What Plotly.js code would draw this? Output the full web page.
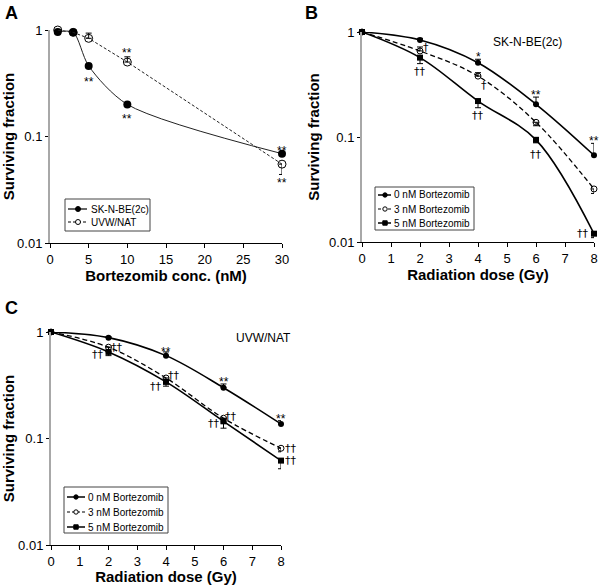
<!DOCTYPE html>
<html><head><meta charset="utf-8">
<script src="https://cdn.plot.ly/plotly-3.0.1.min.js"></script>
<style>html,body{margin:0;padding:0;background:#fff}#chart{width:600px;height:585px}</style>
</head><body><div id="chart"></div>
<script>
// Panel A: Bortezomib concentration (nM)
const concA = [1, 3, 5, 10, 30];
const skA = [0.96, 0.95, 0.46, 0.20, 0.069];
const skA_errUp = [0, 0.05, 0, 0, 0];
const uvwA = [1.0, 0.95, 0.835, 0.50, 0.055];
const uvwA_errUp = [0, 0, 0.10, 0.06, 0];
const uvwA_errDn = [0, 0, 0, 0, 0.011];

// Panel B: SK-N-BE(2c), radiation dose (Gy)
const doseB = [0, 2, 4, 6, 8];
const b0 = [1.0, 0.84, 0.51, 0.205, 0.067];
const b0_errUp = [0, 0.03, 0.04, 0.035, 0.02];
const b3 = [1.0, 0.66, 0.38, 0.138, 0.032];
const b3_errUp = [0, 0.06, 0.03, 0, 0];
const b3_errDn = [0, 0, 0, 0.01, 0.003];
const b5 = [1.0, 0.57, 0.22, 0.094, 0.012];
const b5_errDn = [0, 0.07, 0.03, 0.006, 0.001];

// Panel C: UVW/NAT, radiation dose (Gy)
const doseC = [0, 2, 4, 6, 8];
const c0 = [1.0, 0.885, 0.60, 0.30, 0.137];
const c0_errUp = [0, 0.02, 0.05, 0.025, 0.01];
const c3 = [1.0, 0.72, 0.37, 0.155, 0.081];
const c3_errDn = [0, 0.06, 0.04, 0.015, 0.006];
const c5 = [1.0, 0.65, 0.34, 0.145, 0.062];
const c5_errDn = [0, 0.05, 0.03, 0.02, 0.010];

const legendA = ['SK-N-BE(2c)', 'UVW/NAT'];
const legendBC = ['0 nM Bortezomib', '3 nM Bortezomib', '5 nM Bortezomib'];
const yTickVals = [0.01, 0.1, 1];
const yTickText = ['0.01', '0.1', '1'];

const FONT = 'Liberation Sans, Arial, sans-serif';
const DAG_FONT = 'DejaVu Sans, sans-serif';

function eb(up, dn) {
  return {type: 'data', symmetric: false, array: up, arrayminus: dn || up.map(() => 0),
          color: '#000', thickness: 1, width: 3};
}
function ln(dash, w) { return {color: '#000', width: w, dash: dash, shape: 'spline', smoothing: 1}; }

const traces = [
  {x: concA, y: skA, name: legendA[0], xaxis: 'x', yaxis: 'y', mode: 'lines+markers',
   line: {color: '#222', width: 1, shape: 'spline', smoothing: 0.8}, marker: {symbol: 'circle', size: 8, color: '#000'},
   error_y: eb(skA_errUp), cliponaxis: false},
  {x: concA, y: uvwA, name: legendA[1], xaxis: 'x', yaxis: 'y', mode: 'lines+markers',
   line: {color: '#222', width: 1, dash: '3px,2px'}, marker: {symbol: 'circle-open', size: 8, color: '#000', line: {width: 1}},
   error_y: eb(uvwA_errUp, uvwA_errDn), cliponaxis: false},

  {x: doseB, y: b0, name: legendBC[0], xaxis: 'x2', yaxis: 'y2', mode: 'lines+markers',
   line: ln('solid', 1.6), marker: {symbol: 'circle', size: 6, color: '#000'}, error_y: eb(b0_errUp), cliponaxis: false},
  {x: doseB, y: b3, name: legendBC[1], xaxis: 'x2', yaxis: 'y2', mode: 'lines+markers',
   line: ln('5px,3px', 1.3), marker: {symbol: 'circle-open', size: 6, color: '#000', line: {width: 1}}, error_y: eb(b3_errUp, b3_errDn), cliponaxis: false},
  {x: doseB, y: b5, name: legendBC[2], xaxis: 'x2', yaxis: 'y2', mode: 'lines+markers',
   line: ln('solid', 1.6), marker: {symbol: 'square', size: 6, color: '#000'}, error_y: eb(b5.map(() => 0), b5_errDn), cliponaxis: false},

  {x: doseC, y: c0, name: legendBC[0], xaxis: 'x3', yaxis: 'y3', mode: 'lines+markers',
   line: ln('solid', 1.6), marker: {symbol: 'circle', size: 6, color: '#000'}, error_y: eb(c0_errUp), cliponaxis: false},
  {x: doseC, y: c3, name: legendBC[1], xaxis: 'x3', yaxis: 'y3', mode: 'lines+markers',
   line: ln('5px,3px', 1.3), marker: {symbol: 'circle-open', size: 6, color: '#000', line: {width: 1}}, error_y: eb(c3.map(() => 0), c3_errDn), cliponaxis: false},
  {x: doseC, y: c5, name: legendBC[2], xaxis: 'x3', yaxis: 'y3', mode: 'lines+markers',
   line: ln('solid', 1.6), marker: {symbol: 'square', size: 6, color: '#000'}, error_y: eb(c5.map(() => 0), c5_errDn), cliponaxis: false}
];

function xax(domain, range, dtick, title, anchor) {
  return {domain: domain, range: range, dtick: dtick, tick0: 0, anchor: anchor,
    showline: true, linecolor: '#000', linewidth: 1, ticks: 'outside', ticklen: 4, tickcolor: '#000',
    showgrid: false, zeroline: false, tickfont: {family: FONT, size: 13, color: '#000'},
    title: {text: title, font: {family: FONT, size: 15, color: '#000', weight: 'bold'}, standoff: 3}};
}
function yax(domain, anchor) {
  return {domain: domain, type: 'log', range: [-2, 0], anchor: anchor,
    tickvals: yTickVals, ticktext: yTickText,
    showline: true, linecolor: '#a8a8a8', linewidth: 2, ticks: 'outside', ticklen: 3, tickcolor: '#000',
    showgrid: false, zeroline: false, tickfont: {family: FONT, size: 13, color: '#000'},
    title: {text: 'Surviving fraction', font: {family: FONT, size: 15, color: '#000', weight: 'bold'}, standoff: 6}};
}

// annotations anchored to data points (x, value) with pixel offsets
function at(ax, x, v, text, dx, dy) {
  const dag = text.indexOf('†') >= 0;
  return {xref: ax.x, yref: ax.y, x: x, y: Math.log10(v), text: text, showarrow: false, borderpad: 0,
    xshift: dx, yshift: dy, font: {family: dag ? DAG_FONT : FONT, size: dag ? 11 : 12, color: '#000'}};
}
const A = {x: 'x', y: 'y'}, B = {x: 'x2', y: 'y2'}, C = {x: 'x3', y: 'y3'};

const annotations = [
  at(A, concA[3], uvwA[3], '**', 0, 9),
  at(A, concA[2], skA[2], '**', 0, -16),
  at(A, concA[3], skA[3], '**', 0, -15),
  at(A, concA[4], skA[4], '**', 0, 3),
  at(A, concA[4], uvwA[4], '**', 0, -19),

  at(B, doseB[2], b0[2], '*', 0, 6),
  at(B, doseB[3], b0[3], '**', 0, 9),
  at(B, doseB[4], b0[4], '**', 0, 14),
  at(B, doseB[1], b3[1], '†', 6, 3),
  at(B, doseB[2], b3[2], '†', 6, -9),
  at(B, doseB[1], b5[1], '††', 0, -14),
  at(B, doseB[2], b5[2], '††', 0, -14),
  at(B, doseB[3], b5[3], '††', 0, -15),
  at(B, doseB[4], b5[4], '††', -11, 0),

  at(C, doseC[1], c5[1], '††', -11, -3),
  at(C, doseC[1], c3[1], '††', 8, 0),
  at(C, doseC[2], c0[2], '**', 0, 4),
  at(C, doseC[2], c3[2], '††', 8, 2),
  at(C, doseC[2], c5[2], '††', -10, -5),
  at(C, doseC[3], c0[3], '**', 0, 6),
  at(C, doseC[3], c3[3], '††', 7, 2),
  at(C, doseC[3], c5[3], '††', -10, -2),
  at(C, doseC[4], c0[4], '**', 0, 5),
  at(C, doseC[4], c3[4], '††', 10, 0),
  at(C, doseC[4], c5[4], '††', 10, 0),

  {xref: 'paper', yref: 'paper', x: 0.94, y: 1 - 33/585, text: 'SK-N-BE(2c)', showarrow: false,
   font: {family: FONT, size: 12, color: '#000'}},
  {xref: 'paper', yref: 'paper', x: 263/600, y: 1 - 338/585, text: 'UVW/NAT', showarrow: false,
   font: {family: FONT, size: 12, color: '#000'}},
  {xref: 'paper', yref: 'paper', x: 3/600, y: 1 - 1/585, xanchor: 'left', yanchor: 'top', text: '<b>A</b>', showarrow: false,
   font: {family: FONT, size: 18, color: '#000'}},
  {xref: 'paper', yref: 'paper', x: 303/600, y: 1 - 1/585, xanchor: 'left', yanchor: 'top', text: '<b>B</b>', showarrow: false,
   font: {family: FONT, size: 18, color: '#000'}},
  {xref: 'paper', yref: 'paper', x: 3/600, y: 1 - 296/585, xanchor: 'left', yanchor: 'top', text: '<b>C</b>', showarrow: false,
   font: {family: FONT, size: 18, color: '#000'}}
];

// Hand-built legend boxes (pixel layout converted to paper coords)
const shapes = [];
const PX = x => x / 600, PY = y => 1 - y / 585;
function legendBox(box, rows, names, styles, fontSize) {
  shapes.push({type: 'rect', xref: 'paper', yref: 'paper', x0: PX(box[0]), x1: PX(box[1]), y0: PY(box[2]), y1: PY(box[3]),
    line: {color: '#444', width: 1}, fillcolor: '#fff', layer: 'above'});
  names.forEach((nm, i) => {
    const st = styles[i], y = rows.y[i];
    shapes.push({type: 'line', xref: 'paper', yref: 'paper', x0: PX(rows.l0), x1: PX(rows.l1), y0: PY(y), y1: PY(y),
      line: {color: '#000', width: st.w, dash: st.dash}, layer: 'above'});
    const r = st.r, cx = rows.m;
    if (st.sym === 'square') {
      shapes.push({type: 'rect', xref: 'paper', yref: 'paper', x0: PX(cx - r), x1: PX(cx + r), y0: PY(y - r), y1: PY(y + r),
        line: {color: '#000', width: 1}, fillcolor: '#000', layer: 'above'});
    } else {
      shapes.push({type: 'circle', xref: 'paper', yref: 'paper', x0: PX(cx - r), x1: PX(cx + r), y0: PY(y - r), y1: PY(y + r),
        line: {color: '#000', width: 1}, fillcolor: st.sym === 'open' ? '#fff' : '#000', layer: 'above'});
    }
    annotations.push({xref: 'paper', yref: 'paper', x: PX(rows.t), y: PY(y), xanchor: 'left', yanchor: 'middle',
      text: nm, showarrow: false, borderpad: 0, font: {family: FONT, size: fontSize, color: '#000'}});
  });
}
legendBox([65, 150, 199, 231], {y: [209, 222], l0: 68, l1: 87, m: 78, t: 90}, legendA,
  [{sym: 'filled', r: 2.5, w: 1.2, dash: 'solid'}, {sym: 'open', r: 2.5, w: 1, dash: '3px,2px'}], 10);
legendBox([375, 474, 187, 230], {y: [195, 209, 223], l0: 378, l1: 391, m: 385, t: 393}, legendBC,
  [{sym: 'filled', r: 2.2, w: 1.5, dash: 'solid'}, {sym: 'open', r: 2.2, w: 1.2, dash: '3px,2px'}, {sym: 'square', r: 2.2, w: 1.5, dash: 'solid'}], 10);
legendBox([64, 168, 487, 533], {y: [497, 512, 527], l0: 67, l1: 85, m: 76, t: 87}, legendBC,
  [{sym: 'filled', r: 2.2, w: 1.5, dash: 'solid'}, {sym: 'open', r: 2.2, w: 1.2, dash: '3px,2px'}, {sym: 'square', r: 2.2, w: 1.5, dash: 'solid'}], 10);

const layout = {
  width: 600, height: 585, margin: {l: 0, r: 0, t: 0, b: 0},
  paper_bgcolor: '#fff', plot_bgcolor: 'rgba(0,0,0,0)',
  font: {family: FONT, color: '#000'},
  showlegend: false,
  xaxis: xax([50/600, 282/600], [0, 30], 5, 'Bortezomib conc. (nM)', 'y'),
  yaxis: yax([1 - 243/585, 1 - 30/585], 'x'),
  xaxis2: xax([362/600, 594/600], [0, 8], 1, 'Radiation dose (Gy)', 'y2'),
  yaxis2: yax([1 - 242/585, 1 - 32/585], 'x2'),
  xaxis3: xax([51/600, 281/600], [0, 8], 1, 'Radiation dose (Gy)', 'y3'),
  yaxis3: yax([1 - 545/585, 1 - 332/585], 'x3'),
  annotations: annotations,
  shapes: shapes
};

Plotly.newPlot('chart', traces, layout, {staticPlot: true, displayModeBar: false});
</script></body></html>
